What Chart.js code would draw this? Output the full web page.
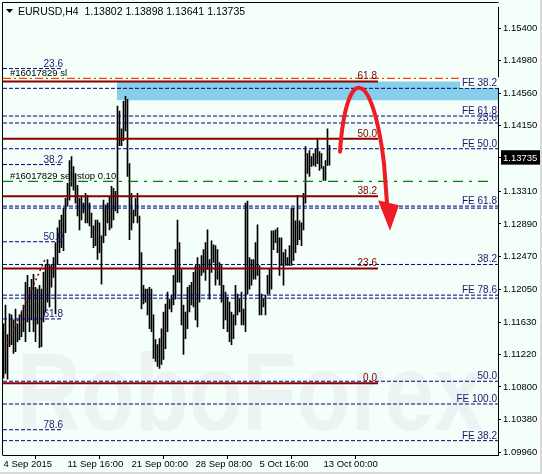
<!DOCTYPE html>
<html><head><meta charset="utf-8">
<script src="https://cdn.jsdelivr.net/npm/chart.js@4.4.1/dist/chart.umd.min.js"></script>
<style>html,body{margin:0;padding:0;background:#F5FFFA;}#wrap{width:542px;height:474px;position:relative;}</style>
</head><body><div id="wrap"><canvas id="c"></canvas></div>
<script>
// ---------- data ----------
const symbolTitle = 'EURUSD,H4';
const ohlcHeader = ['1.13802','1.13898','1.13641','1.13735'];
const lastPrice = 1.13735;

const barHigh = [
1.11609,1.11850,1.11470,1.11736,1.11723,1.11660,1.11799,1.11609,1.11723,1.11761,
1.11850,1.12142,1.12230,1.12078,1.12180,1.12243,1.12078,1.12053,1.12104,1.12053,
1.12268,1.12370,1.12433,1.12370,1.12357,1.12459,1.12649,1.12839,1.12940,1.13004,
1.13093,1.13219,1.13410,1.13701,1.13752,1.13625,1.13536,1.13384,1.13219,1.13245,
1.13156,1.13283,1.13257,1.13156,1.13029,1.12864,1.12940,1.12940,1.12902,1.12738,
1.13194,1.13130,1.13156,1.13245,1.13372,1.13346,1.13308,1.14399,1.14335,1.14107,
1.14462,1.14525,1.14487,1.13663,1.13283,1.13067,1.13219,1.13283,1.12991,1.12522,
1.12104,1.12053,1.12053,1.12078,1.12053,1.11723,1.11406,1.11343,1.11419,1.11546,
1.11761,1.11863,1.12015,1.11926,1.11977,1.12230,1.12560,1.12940,1.12649,1.12306,
1.11850,1.11761,1.12078,1.12104,1.12142,1.12268,1.12357,1.12459,1.12370,1.12484,
1.12560,1.12649,1.12814,1.12433,1.12674,1.12623,1.12611,1.12560,1.12395,1.12357,
1.12104,1.12015,1.11951,1.11888,1.11761,1.11723,1.12104,1.11989,1.11926,1.12015,
1.11799,1.13156,1.13181,1.12459,1.12433,1.12433,1.12649,1.12877,1.12357,1.11989,
1.11926,1.11977,1.12230,1.12306,1.12801,1.12801,1.12814,1.12839,1.12712,1.12712,
1.12522,1.12560,1.12459,1.12611,1.13093,1.13093,1.12928,1.13257,1.12928,1.12902,
1.13283,1.13879,1.13790,1.13828,1.13752,1.13790,1.13853,1.13980,1.13815,1.13790,
1.13625,1.13701,1.14107,1.13898];
const barLow = [
1.10912,1.10975,1.10899,1.11317,1.11343,1.11229,1.11254,1.11381,1.11406,1.11444,
1.11508,1.11381,1.11634,1.11508,1.11660,1.11508,1.11381,1.11609,1.11305,1.11317,
1.11634,1.11761,1.11888,1.11825,1.12078,1.12205,1.11736,1.12370,1.12522,1.12585,
1.12547,1.12776,1.13118,1.13194,1.13372,1.13321,1.13156,1.12991,1.12814,1.12940,
1.13029,1.12902,1.12902,1.12864,1.12712,1.12585,1.12611,1.12433,1.12522,1.12116,
1.12649,1.12738,1.12902,1.12814,1.12839,1.12940,1.13055,1.13029,1.13891,1.13891,
1.13955,1.14082,1.13498,1.12687,1.12814,1.12902,1.12991,1.12902,1.12306,1.11799,
1.11863,1.11888,1.11723,1.11546,1.11508,1.11165,1.11127,1.11064,1.11038,1.11089,
1.11153,1.11292,1.11508,1.11799,1.11761,1.11850,1.11926,1.12142,1.12142,1.11596,
1.11216,1.11419,1.11546,1.11761,1.11850,1.11825,1.11660,1.11571,1.11888,1.12230,
1.12268,1.12167,1.12306,1.11926,1.12268,1.12395,1.12104,1.12180,1.12104,1.11888,
1.11546,1.11660,1.11508,1.11381,1.11343,1.11419,1.11596,1.11723,1.11761,1.11596,
1.11596,1.11508,1.11989,1.12053,1.12104,1.12180,1.12180,1.12230,1.11723,1.11723,
1.11825,1.11723,1.11989,1.11989,1.12053,1.12560,1.12649,1.12522,1.12230,1.12357,
1.12104,1.12357,1.12357,1.12357,1.12357,1.12421,1.12522,1.12623,1.12687,1.12611,
1.12814,1.13156,1.13536,1.13498,1.13625,1.13638,1.13625,1.13663,1.13574,1.13600,
1.13448,1.13448,1.13638,1.13641];

const xTickIndex = [0,32,64,96,128,160];
const xTickLabels = ['4 Sep 2015','11 Sep 16:00','21 Sep 00:00','28 Sep 08:00','5 Oct 16:00','13 Oct 00:00'];
const yTickValues = [1.15400,1.14980,1.14560,1.14150,1.13735,1.13310,1.12890,1.12470,1.12050,1.11630,1.11220,1.10800,1.10380,1.09960];
const yMin = 1.099283, yMax = 1.156603;
const xMin = -0.25, xMax = 247.25;

// Fibonacci retracement (dark red, solid)
const retrLevels = [1.14716,1.13980,1.13245,1.12319,1.10848];
const retrLabels = ['61.8','50.0','38.2','23.6','0.0'];
const retrEnd = 187.25;
// Fibonacci expansion levels (navy dashed, full width)
const expLevels = [1.14627,1.14272,1.14183,1.13853,1.13118,1.13092,1.12370,1.11977,1.11938,1.10873,1.10582,1.10112];
const expLabels = ['FE 38.2','FE 61.8','23.6','FE 50.0','FE 61.8','','38.2','FE 78.6','','50.0','FE 100.0','FE 38.2'];
// short fib on the left
const leftFibLevels = [1.14880,1.13650,1.12661,1.11672,1.10252];
const leftFibLabels = ['23.6','38.2','50.0','61.8','78.6'];
const leftFibEnd = 29.75;
const leftFibTrend = [[0.75,1.11292],[20.75,1.12433]];
// orders
const stopLossPrice = 1.14754, stopLossText = '#16017829 sl';
const sellStopPrice = 1.13435, sellStopText = '#16017829 sell stop 0.10', sellStopEnd = 244.25;
// zone
const zoneTop = 1.14716, zoneBottom = 1.14475, zoneStart = 56.75;
// forecast arrow (bar index, price)
const arrowCurve = [[168.25,1.13815],[171.25,1.14931],[184.25,1.14931],[190.25,1.13663],[191.75,1.13156]];
const arrowHead = [[187.25,1.13194],[197.75,1.13130],[193.25,1.12801]];

// ---------- build ----------
const NAVY = '#000080', DRED = '#8B0000';
function hline(p, x0, x1, color, dash, w){
  return {type:'line', data:[{x:x0,y:p},{x:x1,y:p}], borderColor:color, borderWidth:w, borderDash:dash,
          pointRadius:0, fill:false, order:1, tension:0};
}
const datasets = [];
datasets.push({type:'bar', data:barHigh.map((h,i)=>({x:i,y:[barLow[i],h]})), backgroundColor:'#000',
  borderWidth:0, barThickness:1, order:2});
datasets.push({type:'line', data:[{x:zoneStart,y:zoneTop},{x:xMax,y:zoneTop}], borderWidth:0, borderColor:'rgba(0,0,0,0)',
  backgroundColor:'#87CEEB', fill:{value:zoneBottom}, pointRadius:0, order:3});
expLevels.forEach(p=>datasets.push(hline(p,xMin,xMax,NAVY,[4,2],1)));
leftFibLevels.forEach(p=>datasets.push(hline(p,xMin,leftFibEnd,NAVY,[4,2],1)));
datasets.push({type:'line', data:leftFibTrend.map(a=>({x:a[0],y:a[1]})), borderColor:DRED, borderWidth:1.5,
  borderDash:[2,3], pointRadius:0, order:1});
datasets.push(hline(stopLossPrice,xMin,xMax,'#FF4500',[8,3,2,3],1.3));
datasets.push(hline(sellStopPrice,xMin,sellStopEnd,'#008000',[10,6,3,6],1.3));
retrLevels.forEach(p=>datasets.push(hline(p,xMin,retrEnd,DRED,[],2)));

const FONT = "'Liberation Sans', Arial, sans-serif";
const annot = {
  id:'annot',
  beforeDraw(chart){
    const c = chart.ctx; c.save();
    c.fillStyle = '#F5FFFA'; c.fillRect(0,0,chart.width,chart.height);
    c.restore();
  },
  beforeDatasetsDraw(chart){
    const c = chart.ctx; c.save();
    c.font = "bold 110px " + FONT;
    const w = c.measureText('RoboForex').width;
    c.translate(17, 430); c.scale(466/w, 1);
    c.fillStyle = '#EBF3F3';
    c.textBaseline = 'alphabetic';
    c.fillText('RoboForex', 0, 0);
    c.restore();
  },
  afterDatasetsDraw(chart){
    const c = chart.ctx, xs = chart.scales.x, ys = chart.scales.y;
    c.save();
    c.font = "10px " + FONT; c.textBaseline = 'alphabetic';
    // expansion labels (right)
    c.textAlign = 'right';
    expLevels.forEach((p,i)=>{
      const t = expLabels[i]; if(!t) return;
      const y = ys.getPixelForValue(p);
      if(i===0){ const w=c.measureText(t).width; c.fillStyle='#F5FFFA'; c.fillRect(497-w-2, y-11, w+4, 10.5); }
      c.fillStyle = '#191970'; c.fillText(t, 497, y-2);
    });
    // retracement labels
    const rx = xs.getPixelForValue(retrEnd);
    retrLevels.forEach((p,i)=>{ c.fillStyle = '#800000'; c.fillText(retrLabels[i], rx-1, ys.getPixelForValue(p)-2); });
    // left fib labels
    const lx = xs.getPixelForValue(leftFibEnd);
    leftFibLevels.forEach((p,i)=>{ c.fillStyle = '#191970'; c.fillText(leftFibLabels[i], lx, ys.getPixelForValue(p)-2); });
    // order labels
    c.font = "9.5px " + FONT;
    c.textAlign = 'left'; c.fillStyle = '#000';
    c.fillText(stopLossText, 10, ys.getPixelForValue(stopLossPrice)-2);
    c.fillText(sellStopText, 10, ys.getPixelForValue(sellStopPrice)-2);
    // arrow
    const P = a => [xs.getPixelForValue(a[0]), ys.getPixelForValue(a[1])];
    const pts = arrowCurve.map(P);
    c.strokeStyle = '#EE1C24'; c.lineWidth = 4; c.lineCap = 'round';
    c.beginPath(); c.moveTo(pts[0][0],pts[0][1]);
    c.bezierCurveTo(pts[1][0],pts[1][1],pts[2][0],pts[2][1],pts[3][0],pts[3][1]);
    c.lineTo(pts[4][0],pts[4][1]); c.stroke();
    const hp = arrowHead.map(P);
    c.fillStyle = '#EE1C24'; c.beginPath(); c.moveTo(hp[0][0],hp[0][1]); c.lineTo(hp[1][0],hp[1][1]); c.lineTo(hp[2][0],hp[2][1]); c.closePath(); c.fill();
    c.restore();
  },
  afterDraw(chart){
    const c = chart.ctx, a = chart.chartArea; c.save();
    c.strokeStyle = '#000'; c.lineWidth = 1;
    c.beginPath(); c.moveTo(2.5, a.bottom+0.5); c.lineTo(2.5, 2.5); c.lineTo(a.right+0.5, 2.5); c.stroke();
    // header
    c.fillStyle = '#000';
    c.beginPath(); c.moveTo(6,9); c.lineTo(13,9); c.lineTo(9.5,13); c.closePath(); c.fill();
    c.font = "10.5px " + FONT; c.textAlign='left'; c.textBaseline='alphabetic';
    c.fillText(symbolTitle + '  ' + ohlcHeader.join(' '), 18, 15);
    // window frame
    c.fillStyle = '#D9D9D9'; c.fillRect(0, 472, 542, 2); c.fillRect(540, 0, 2, 474);
    c.restore();
  }
};

new Chart(document.getElementById('c'), {
  type:'bar',
  data:{datasets},
  plugins:[annot],
  options:{
    responsive:true, maintainAspectRatio:false, animation:false, devicePixelRatio:1, events:[],
    layout:{padding:{left:3,top:3,right:0,bottom:0}},
    plugins:{legend:{display:false}, tooltip:{enabled:false}},
    scales:{
      x:{type:'linear', position:'bottom', min:xMin, max:xMax, offset:false,
        afterBuildTicks:s=>{ s.ticks = xTickIndex.map(v=>({value:v})); },
        afterFit:s=>{ s.height = 19; },
        grid:{drawOnChartArea:false, drawTicks:true, tickLength:4, color:'#000'},
        border:{display:true, color:'#000'},
        ticks:{autoSkip:false, maxRotation:0, align:'start', padding:0, color:'#000',
          font:{family:FONT, size:9.5},
          callback:v=>{ const k = xTickIndex.indexOf(v); return k>=0 ? xTickLabels[k] : ''; }}
      },
      y:{type:'linear', position:'right', min:yMin, max:yMax,
        afterBuildTicks:s=>{ s.ticks = yTickValues.map(v=>({value:v})); },
        afterFit:s=>{ s.width = 44; },
        grid:{drawOnChartArea:false, drawTicks:true, tickLength:3, color:'#000'},
        border:{display:true, color:'#000'},
        ticks:{padding:2, font:{family:FONT, size:9.5},
          color:ctx=> (ctx.tick && ctx.tick.value===lastPrice) ? '#fff' : '#000',
          showLabelBackdrop:ctx=> !!(ctx.tick && ctx.tick.value===lastPrice),
          backdropColor:'#000', backdropPadding:{top:2,bottom:1,left:2,right:4},
          callback:v=>v.toFixed(5)}
      }
    }
  }
});
</script></body></html>
